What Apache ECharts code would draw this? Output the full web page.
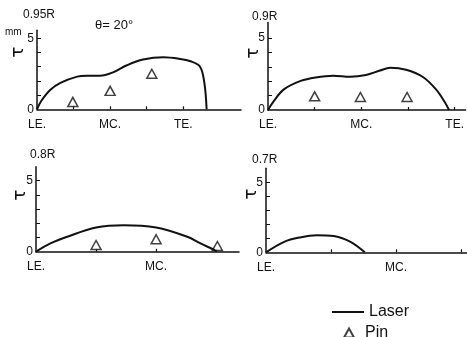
<!DOCTYPE html>
<html><head><meta charset="utf-8">
<script src="https://cdn.jsdelivr.net/npm/echarts@6/dist/echarts.min.js"></script>
<style>html,body{margin:0;padding:0;background:#fff}#c{width:467px;height:337px}</style>
</head><body><div id="c"></div>
<script>
// x: chord position (LE.=0, MC.=1, TE.=2), y: thickness tau (mm)
const xTickLabels = {0: 'LE.', 1: 'MC.', 2: 'TE.'};
const yTickLabels = [0, 5];
const panelTitles = ['0.95R', '0.9R', '0.8R', '0.7R'];
const laser095 = [[0,0],[0.06,0.6],[0.18,1.36],[0.32,1.86],[0.55,2.3],[0.68,2.36],[0.86,2.36],[1.04,2.6],[1.23,3.1],[1.45,3.5],[1.73,3.66],[1.95,3.55],[2.1,3.38],[2.23,3.0],[2.29,1.83],[2.32,0]];
const pin095 = [[0.49,0.52],[1.0,1.3],[1.57,2.5]];
const laser09 = [[0,0],[0.06,0.6],[0.17,1.43],[0.35,2.02],[0.51,2.26],[0.70,2.38],[0.88,2.31],[1.05,2.43],[1.20,2.74],[1.31,2.93],[1.48,2.79],[1.66,2.29],[1.80,1.43],[1.89,0.59],[1.94,0]];
const pin09 = [[0.5,0.95],[0.99,0.9],[1.49,0.9]];
const laser08 = [[0,0],[0.12,0.58],[0.26,1.05],[0.5,1.7],[0.73,1.87],[1.0,1.7],[1.26,1.05],[1.37,0.58],[1.49,0.1],[1.5,0]];
const pin08 = [[0.5,0.47],[1.0,0.88],[1.51,0.4]];
const laser07 = [[0,0],[0.14,0.75],[0.26,1.06],[0.39,1.22],[0.52,1.17],[0.65,0.75],[0.76,0]];
const pin07 = [];

const FONT = 'Liberation Sans';
const INK = '#111';
const grids = [
  {left: 37, top: 30.2, width: 204, height: 79.1},
  {left: 268, top: 22.6, width: 199, height: 87.4},
  {left: 36, top: 166.7, width: 203, height: 85},
  {left: 266, top: 168.3, width: 201, height: 84}
];
const xMax = [2.79, 2.117, 1.69, 1.546];
const yMax = [5.57, 6.07, 5.99, 6.0];
const xTicks = [[0.5,1,1.5,2],[0.5,1,1.5,2],[0.5,1,1.5],[0.5,1,1.5]];
const xLabelVals = [[0,1,2],[0,1,2],[0,1],[0,1]];
const lasers = [laser095, laser09, laser08, laser07];
const pins = [pin095, pin09, pin08, pin07];

const xAxes = grids.map((g, i) => ({
  type: 'value', gridIndex: i, min: 0, max: xMax[i],
  axisLine: {lineStyle: {color: INK, width: 1.5}},
  axisTick: {show: true, inside: true, length: 3, customValues: xTicks[i], lineStyle: {color: INK, width: 1.2}},
  axisLabel: {customValues: xLabelVals[i], formatter: v => xTickLabels[v] || '', color: INK, fontFamily: FONT, fontSize: 12, margin: 9},
  splitLine: {show: false}
}));
const yAxes = grids.map((g, i) => ({
  type: 'value', gridIndex: i, min: 0, max: yMax[i],
  axisLine: {show: true, lineStyle: {color: INK, width: 1.5}},
  axisTick: {show: true, inside: true, length: 4, customValues: [1,2,3,4,5], lineStyle: {color: INK, width: 1}},
  axisLabel: {customValues: yTickLabels, color: INK, fontFamily: FONT, fontSize: 12, margin: 3},
  splitLine: {show: false}
}));
const series = [];
lasers.forEach((d, i) => series.push({
  name: 'Laser', type: 'line', xAxisIndex: i, yAxisIndex: i, data: d,
  symbol: 'none', smooth: 0.35, lineStyle: {color: INK, width: 2}, itemStyle: {color: INK}
}));
pins.forEach((d, i) => series.push({
  name: 'Pin', type: 'scatter', xAxisIndex: i, yAxisIndex: i, data: d,
  symbol: 'triangle', symbolSize: [10, 9],
  itemStyle: {color: '#fff', borderColor: INK, borderWidth: 1.5}
}));

const txt = (text, x, y, size, extra) => Object.assign({
  type: 'text', x: x, y: y,
  style: {text: text, fill: INK, font: size + 'px "' + FONT + '"', textAlign: 'left', textVerticalAlign: 'middle'}
}, extra || {});
const tau = (x, y) => ({type: 'text', x: x, y: y, rotation: Math.PI / 2,
  style: {text: 'τ', fill: INK, font: '18px "DejaVu Sans"', textAlign: 'center', textVerticalAlign: 'middle'}});

const option = {
  backgroundColor: '#fff',
  animation: false,
  grid: grids,
  xAxis: xAxes,
  yAxis: yAxes,
  series: series,
  legend: [
    {data: [{name: 'Laser', icon: 'path://M0,0H32V2H0Z'}], left: 327, top: 299, itemWidth: 32, itemHeight: 14, itemGap: 0,
     textStyle: {color: INK, fontFamily: FONT, fontSize: 16}},
    {data: [{name: 'Pin', icon: 'triangle'}], left: 338, top: 320, itemWidth: 10, itemHeight: 9,
     textStyle: {color: INK, fontFamily: FONT, fontSize: 16, padding: [0, 0, 0, 6]}}
  ],
  graphic: [
    txt(panelTitles[0], 23, 15, 12),
    txt('θ= 20°', 95, 25, 13),
    txt('mm', 5, 32, 10),
    tau(18, 52),
    txt(panelTitles[1], 252, 17, 12),
    tau(253, 53),
    txt(panelTitles[2], 30, 155, 12),
    tau(20, 195),
    txt(panelTitles[3], 252, 160, 12),
    tau(251, 194)
  ]
};
echarts.init(document.getElementById('c')).setOption(option);
</script></body></html>
